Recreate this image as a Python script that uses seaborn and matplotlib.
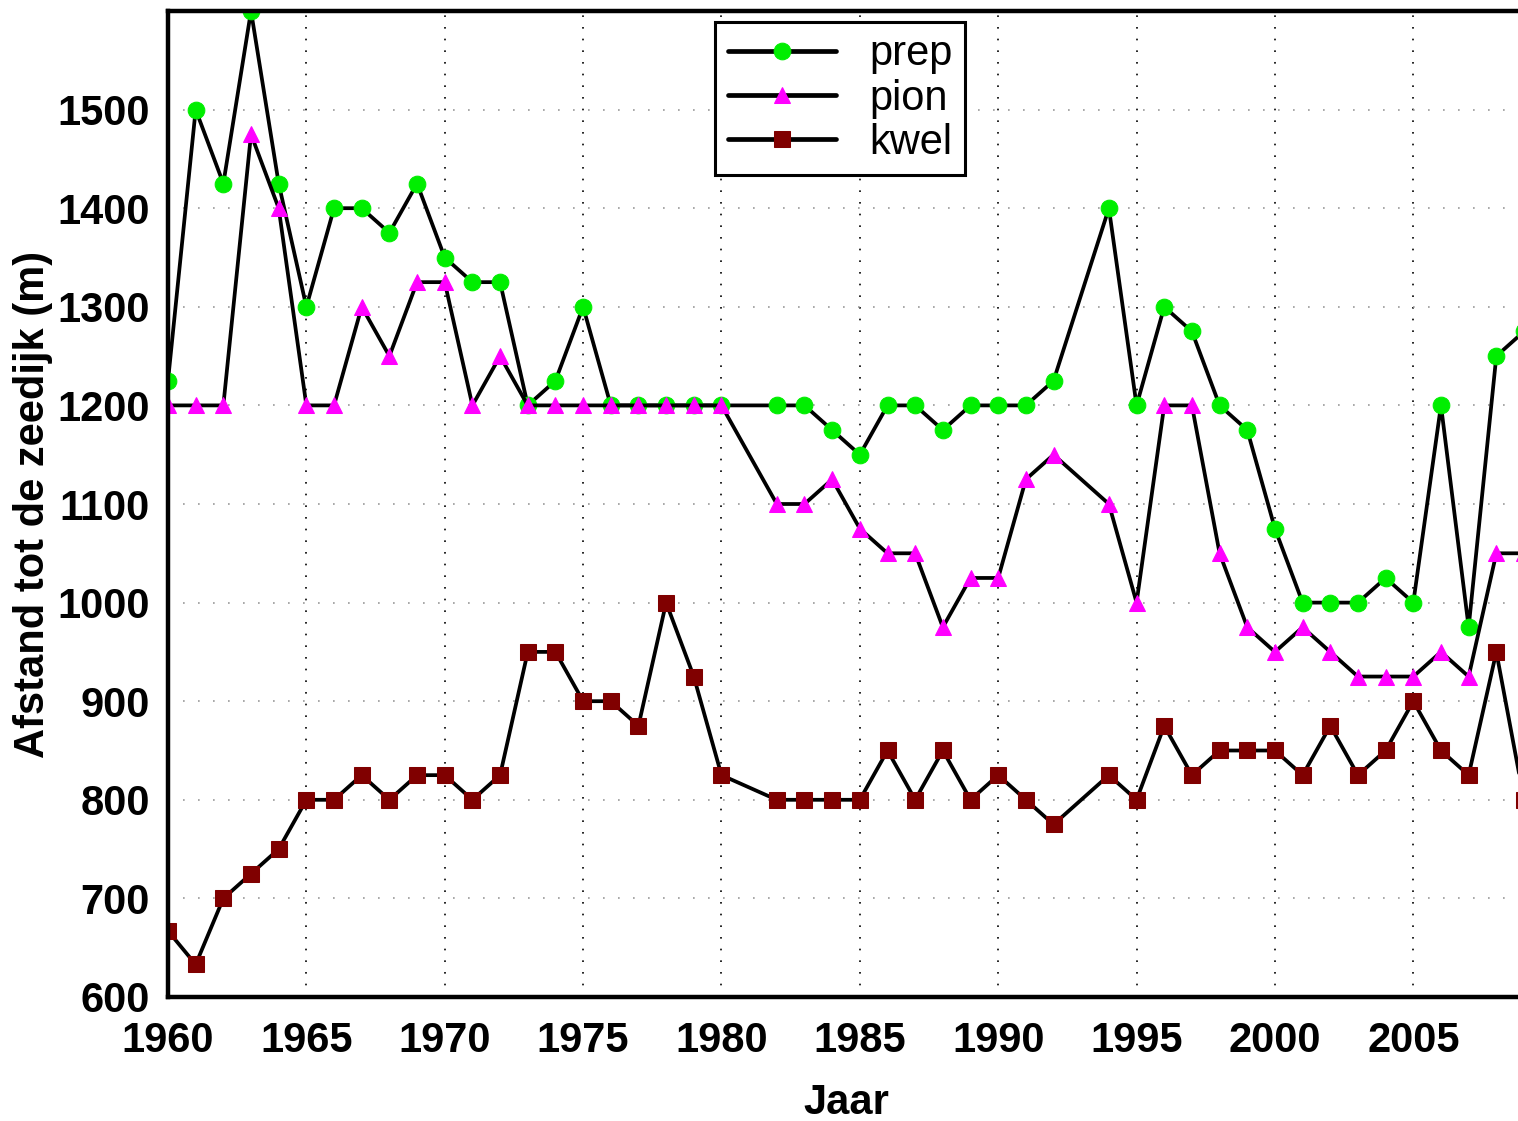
import matplotlib
matplotlib.use("Agg")
import matplotlib.pyplot as plt
import seaborn as sns
import pandas as pd

# years (1981 and 1993 have no observation)
years = [1960, 1961, 1962, 1963, 1964, 1965, 1966, 1967, 1968, 1969,
         1970, 1971, 1972, 1973, 1974, 1975, 1976, 1977, 1978, 1979,
         1980, 1982, 1983, 1984, 1985, 1986, 1987, 1988, 1989, 1990,
         1991, 1992, 1994, 1995, 1996, 1997, 1998, 1999, 2000, 2001,
         2002, 2003, 2004, 2005, 2006, 2007, 2008, 2009]

prep = [1225, 1500, 1425, 1600, 1425, 1300, 1400, 1400, 1375, 1425,
        1350, 1325, 1325, 1200, 1225, 1300, 1200, 1200, 1200, 1200,
        1200, 1200, 1200, 1175, 1150, 1200, 1200, 1175, 1200, 1200,
        1200, 1225, 1400, 1200, 1300, 1275, 1200, 1175, 1075, 1000,
        1000, 1000, 1025, 1000, 1200, 975, 1250, 1275]

pion = [1200, 1200, 1200, 1475, 1400, 1200, 1200, 1300, 1250, 1325,
        1325, 1200, 1250, 1200, 1200, 1200, 1200, 1200, 1200, 1200,
        1200, 1100, 1100, 1125, 1075, 1050, 1050, 975, 1025, 1025,
        1125, 1150, 1100, 1000, 1200, 1200, 1050, 975, 950, 975,
        950, 925, 925, 925, 950, 925, 1050, 1050]

kwel = [667, 633, 700, 725, 750, 800, 800, 825, 800, 825,
        825, 800, 825, 950, 950, 900, 900, 875, 1000, 925,
        825, 800, 800, 800, 800, 850, 800, 850, 800, 825,
        800, 775, 825, 800, 875, 825, 850, 850, 850, 825,
        875, 825, 850, 900, 850, 825, 950, 800]

x_ticks = [1960, 1965, 1970, 1975, 1980, 1985, 1990, 1995, 2000, 2005]
y_ticks = [600, 700, 800, 900, 1000, 1100, 1200, 1300, 1400, 1500]

df = pd.DataFrame({"Jaar": years, "prep": prep, "pion": pion, "kwel": kwel})

sns.set_style("white")
plt.rcParams["font.family"] = ["Liberation Sans", "DejaVu Sans"]
plt.rcParams["text.color"] = "black"
plt.rcParams["axes.labelcolor"] = "black"

W, H = 1518, 1121
fig = plt.figure(figsize=(W / 100, H / 100), dpi=100)
# axes: left spine at x=168, bottom at y=997, top at y=11, right just past the image
ax = fig.add_axes([168 / W, (H - 997) / H, (1524 - 168) / W, (997 - 11) / H])

series = [("prep", "o", "#00ee00", 12),
          ("pion", "^", "#ff00ff", 12),
          ("kwel", "s", "#800000", 11.5)]
for name, mk, col, ms in series:
    sns.lineplot(data=df, x="Jaar", y=name, ax=ax, color="black", lw=2.7,
                 marker=mk, markersize=ms, markerfacecolor=col,
                 markeredgecolor=col, label=name)

ax.set_xlim(1960, 2009)
ax.set_ylim(600, 1600)
ax.set_xticks(x_ticks)
ax.set_yticks(y_ticks)

ax.grid(True, axis="x", color="black", ls=(0, (1, 6)), lw=1.2)
ax.grid(True, axis="y", color="#999999", ls=(0, (1, 8)), lw=1.2)

for side in ["left", "bottom", "top", "right"]:
    ax.spines[side].set_linewidth(3.2)
    ax.spines[side].set_color("black")

ax.tick_params(direction="in", length=9, width=1.8, labelsize=30,
               colors="black")
ax.tick_params(axis="x", pad=17)
ax.tick_params(axis="y", pad=13)
for lab in ax.get_xticklabels() + ax.get_yticklabels():
    lab.set_fontweight("bold")

ax.set_xlabel("Jaar", fontsize=30, fontweight="bold", labelpad=16)
ax.set_ylabel("Afstand tot de zeedijk (m)", fontsize=30, fontweight="bold",
              labelpad=3)

leg = ax.legend(loc="upper left", bbox_to_anchor=(715 / W, 1 - 22 / H),
                bbox_transform=fig.transFigure, borderaxespad=0,
                fontsize=30, handlelength=2.6, handletextpad=0.8,
                labelspacing=0.1, borderpad=0.3, fancybox=False,
                framealpha=1, edgecolor="black", labelcolor="black")
leg.get_frame().set_linewidth(2.2)
for line in leg.get_lines():
    line.set_linewidth(3.4)
    line.set_markersize(12)

fig.savefig("out.png", dpi=100)
